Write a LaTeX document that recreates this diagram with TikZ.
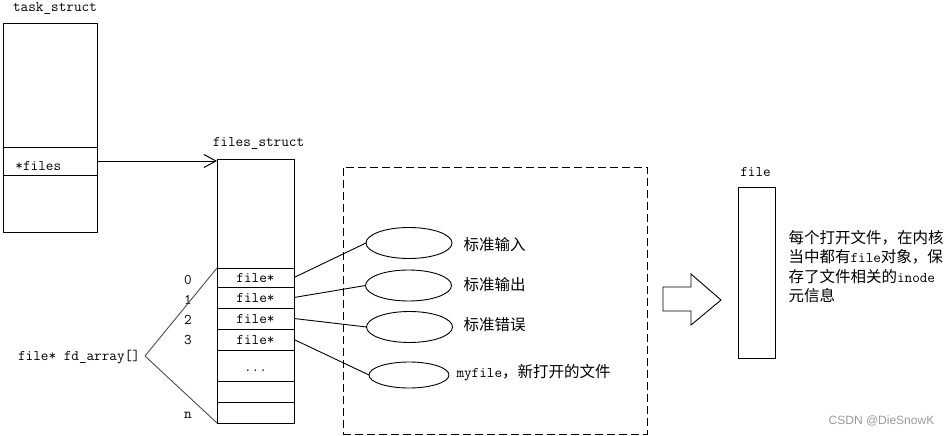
\documentclass[tikz,border=0pt]{standalone}
\usepackage{fontspec}
\newfontfamily\cjk{Noto Sans CJK SC}
\newfontfamily\wmfont{Liberation Sans}
\newcommand\mono{\ttfamily}
\newcommand\mfs{\fontsize{14.8}{19.6}\selectfont\ttfamily}
\usetikzlibrary{shapes.geometric,arrows.meta}
\begin{document}
\begin{tikzpicture}[x=1pt,y=-1pt, line width=1pt,
  box/.style={draw, rectangle, inner sep=0pt, outer sep=0pt, anchor=north west},
  mt/.style={font=\fontsize{14.8}{17}\selectfont\mono, inner sep=0pt},
  ct/.style={font=\fontsize{15.5}{19.6}\selectfont\cjk, inner sep=0pt},
  oval/.style={draw, ellipse, inner sep=0pt, outer sep=0pt, line width=0.9pt, minimum width=86pt, minimum height=31pt},
  link/.style={line width=0.9pt},
  brace/.style={line width=0.9pt, draw=black!70}]
\useasboundingbox (0,0) rectangle (950,436);

% task_struct
\node[mt] (tlab) at (55,8) {task\_struct};
\node[box, minimum width=94pt, minimum height=208pt] (task) at (3,24) {};
\node[box, minimum width=94pt, minimum height=28pt] (tfiles) at (3,147) {};
\node[mt, anchor=west] (tfl) at (15,166) {*files};

% files_struct
\node[mt] (fslab) at (258.5,143) {files\_struct};
\node[box, minimum width=77pt, minimum height=109pt] (fs) at (217,159) {};
\node[box, mt, minimum width=77pt, minimum height=19pt] (r0) at (217,268) {file*};
\node[box, mt, minimum width=77pt, minimum height=21pt] (r1) at (217,287) {file*};
\node[box, mt, minimum width=77pt, minimum height=21pt] (r2) at (217,308) {file*};
\node[box, mt, minimum width=77pt, minimum height=21pt] (r3) at (217,329) {file*};
\node[box, minimum width=77pt, minimum height=31pt] (rd) at (217,350) {};
\node[mt] (dots) at (255.5,371) {...};
\node[box, minimum width=77pt, minimum height=21pt] (r5) at (217,381) {};
\node[box, minimum width=77pt, minimum height=21pt] (rn) at (217,402) {};

\draw[-{Straight Barb[length=12pt,width=13pt]}] (tfiles.east) -- (tfiles.east -| fs.west);

% indices
\node[mt] (n0) at (188,280) {0};
\node[mt] (n1) at (188,300) {1};
\node[mt] (n2) at (188,320) {2};
\node[mt] (n3) at (188,340) {3};
\node[mt] (nn) at (188,415) {n};

\node[mt] (fd) at (79,357) {file* fd\_array[]};
\coordinate (fdp) at (145,356);
\draw[brace] (fdp) -- (r0.north west);
\draw[brace] (fdp) -- (rn.south west);

% dashed group
\node[draw, dash pattern=on 8pt off 4pt, minimum width=304pt, minimum height=267pt, anchor=north west, inner sep=0pt, outer sep=0pt] (grp) at (343,167) {};

\node[oval] (e0) at (409,243) {};
\node[oval] (e1) at (408.5,285.5) {};
\node[oval] (e2) at (409.5,327) {};
\node[oval, minimum width=80pt, minimum height=26pt] (e3) at (409,375) {};

\draw[link] (r0.east) -- (e0.west);
\draw[link] (r1.east) -- (e1.west);
\draw[link] (r2.east) -- (e2.west);
\draw[link] (r3.east) -- (e3.west);

\node[ct, anchor=west] (l0) at (463,245) {标准输入};
\node[ct, anchor=west] (l1) at (463,285) {标准输出};
\node[ct, anchor=west] (l2) at (463,325) {标准错误};
\node[ct, anchor=west] (l3) at (456,373) {{\mfs myfile}，新打开的文件};

% big arrow
\draw[line width=0.9pt] (663,287) -- (691,287) -- (691,274) -- (721,300) -- (691,325) -- (691,311) -- (663,311) -- cycle;

% file
\node[mt] (flab) at (755.5,172) {file};
\node[box, minimum width=37pt, minimum height=171pt] (fbox) at (738,187) {};

\node[ct, anchor=west, align=left] (desc) at (788,266.5) {每个打开文件，在内核\\当中都有{\mfs file}对象，保\\存了文件相关的{\mfs inode}\\元信息};

\node[font=\fontsize{12}{14}\selectfont\wmfont, text=black!40, inner sep=0pt] (wm) at (881.5,421) {CSDN @DieSnowK};
\end{tikzpicture}
\end{document}
